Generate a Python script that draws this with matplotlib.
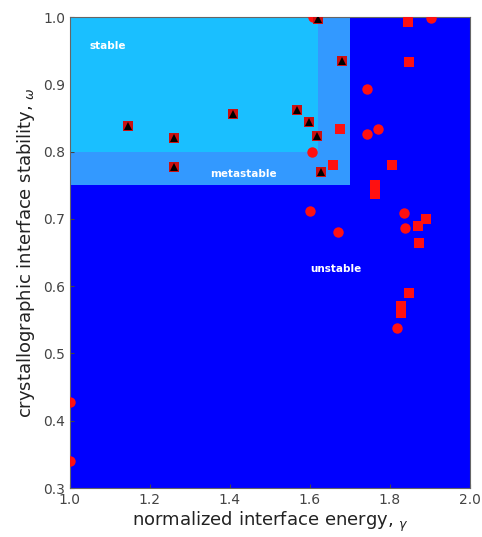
import matplotlib
matplotlib.use("Agg")
import matplotlib.pyplot as plt
from matplotlib.patches import Rectangle

# Region boundaries (gamma, omega)
stable_gamma_max = 1.62
stable_omega_min = 0.80
meta_gamma_max = 1.70
meta_omega_min = 0.75

# Points with black triangle over red square (stable/metastable candidates)
tri_gamma = [1.145, 1.26, 1.26, 1.4075, 1.5675, 1.5975, 1.6175, 1.6275, 1.62, 1.68]
tri_omega = [0.838, 0.820, 0.777, 0.856, 0.862, 0.844, 0.823, 0.770, 0.997, 0.935]

# Red square points
sq_gamma = [1.675, 1.6575, 1.845, 1.8475, 1.805, 1.7625, 1.7625, 1.87, 1.89, 1.8725,
            1.8475, 1.8267, 1.8267]
sq_omega = [0.834, 0.780, 0.993, 0.933, 0.780, 0.750, 0.737, 0.690, 0.700, 0.664,
            0.590, 0.571, 0.560]

# Red circle points
ci_gamma = [1.6075, 1.605, 1.7425, 1.7425, 1.77, 1.9025, 1.60, 1.67, 1.835, 1.8375,
            1.8167, 1.0, 1.0]
ci_omega = [1.0, 0.800, 0.893, 0.826, 0.834, 0.999, 0.712, 0.680, 0.709, 0.687,
            0.538, 0.428, 0.340]

fig = plt.figure(figsize=(4.82, 5.37), dpi=100)
ax = fig.add_axes([0.145, 0.0912, 0.830, 0.877])
ax.set_xlim(1.0, 2.0)
ax.set_ylim(0.3, 1.0)
ax.set_facecolor("#0000FF")

ax.add_patch(Rectangle((1.0, meta_omega_min), meta_gamma_max - 1.0, 1.0 - meta_omega_min,
                       facecolor="#3399FF", edgecolor="none", zorder=1))
ax.add_patch(Rectangle((1.0, stable_omega_min), stable_gamma_max - 1.0, 1.0 - stable_omega_min,
                       facecolor="#1ABFFF", edgecolor="none", zorder=2))

ax.plot(ci_gamma, ci_omega, "o", color="#FF1010", markersize=7.5, markeredgewidth=0, zorder=3)
ax.plot(sq_gamma, sq_omega, "s", color="#FF1010", markersize=7.5, markeredgewidth=0, zorder=3)
ax.plot(tri_gamma, tri_omega, "s", color="#CC1010", markersize=7.5, markeredgewidth=0, zorder=4)
ax.plot(tri_gamma, tri_omega, "^", color="black", markersize=6, markeredgewidth=0, zorder=5)

ax.text(1.05, 0.957, "stable", color="white", fontsize=7.5, fontweight="bold", va="center", zorder=6)
ax.text(1.35, 0.767, "metastable", color="white", fontsize=7.5, fontweight="bold", va="center", zorder=6)
ax.text(1.60, 0.626, "unstable", color="white", fontsize=7.5, fontweight="bold", va="center", zorder=6)

ax.set_xticks([1.0, 1.2, 1.4, 1.6, 1.8, 2.0])
ax.set_yticks([0.3, 0.4, 0.5, 0.6, 0.7, 0.8, 0.9, 1.0])
ax.tick_params(labelsize=10, colors="#444444", length=3, direction="in")
for s in ax.spines.values():
    s.set_color("#666666")
    s.set_linewidth(0.8)

ax.set_xlabel(r"normalized interface energy, $_\gamma$", fontsize=13, color="#222222", labelpad=2)
ax.set_ylabel(r"crystallographic interface stability, $_\omega$", fontsize=13, color="#222222", labelpad=4)

fig.savefig("out.png", dpi=100)
